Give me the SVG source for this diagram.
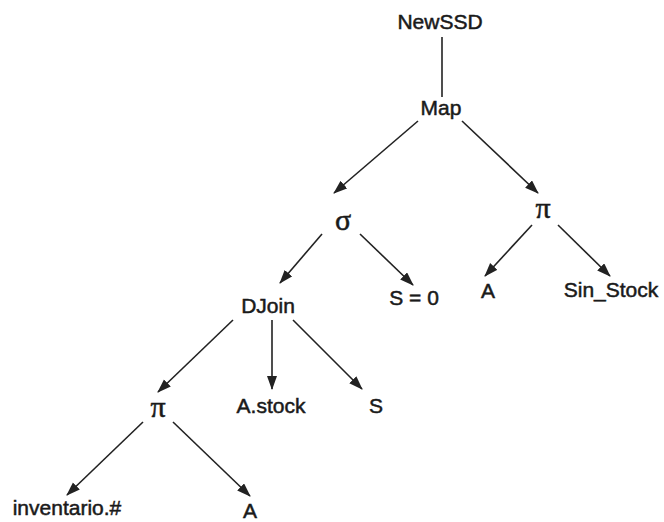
<svg xmlns="http://www.w3.org/2000/svg" width="664" height="522" viewBox="0 0 664 522">
  <style>
    .lbl { font-family: "Liberation Sans", Arial, sans-serif; font-size: 21px; fill: #1a1a1a; stroke: #1a1a1a; stroke-width: 0.5; text-anchor: middle; }
    .grk { font-family: "Liberation Serif", "Times New Roman", serif; font-size: 30px; fill: #1a1a1a; stroke: #1a1a1a; stroke-width: 0.5; text-anchor: middle; }
    .edge { stroke: #222; stroke-width: 1.6; fill: none; }
    .arr { marker-end: url(#head); }
  </style>
  <defs>
    <marker id="head" markerUnits="userSpaceOnUse" markerWidth="14" markerHeight="12" refX="13" refY="5" orient="auto">
      <path d="M0,0 L14,5 L0,10 Z" fill="#222"/>
    </marker>
  </defs>
  <rect width="664" height="522" fill="#fff"/>

  <g id="connectors">
    <line class="edge" x1="442" y1="37" x2="442" y2="97"/>
    <line class="edge arr" x1="418" y1="121" x2="334" y2="193"/>
    <line class="edge arr" x1="462" y1="121" x2="538" y2="193"/>
    <line class="edge arr" x1="322" y1="234" x2="280" y2="283"/>
    <line class="edge arr" x1="360" y1="234" x2="413" y2="285"/>
    <line class="edge arr" x1="532" y1="225" x2="485" y2="276"/>
    <line class="edge arr" x1="558" y1="225" x2="610" y2="276"/>
    <line class="edge arr" x1="233" y1="320" x2="158" y2="392"/>
    <line class="edge arr" x1="272" y1="320" x2="272" y2="389"/>
    <line class="edge arr" x1="293" y1="320" x2="362" y2="389"/>
    <line class="edge arr" x1="143" y1="422" x2="67" y2="495"/>
    <line class="edge arr" x1="173" y1="422" x2="250" y2="496"/>
  </g>

  <g id="newssd"><text class="lbl" x="440" y="29">NewSSD</text></g>
  <g id="map"><text class="lbl" x="441" y="115">Map</text></g>
  <g id="sigma"><text class="grk" x="343" y="230">σ</text></g>
  <g id="pi-right"><text class="grk" x="543" y="218">π</text></g>
  <g id="a-right"><text class="lbl" x="488" y="298">A</text></g>
  <g id="sin-stock"><text class="lbl" x="611" y="297">Sin_Stock</text></g>
  <g id="s-eq-0"><text class="lbl" x="414" y="305">S = 0</text></g>
  <g id="djoin"><text class="lbl" x="268" y="313">DJoin</text></g>
  <g id="pi-left"><text class="grk" x="158" y="417">π</text></g>
  <g id="a-stock"><text class="lbl" x="271" y="413">A.stock</text></g>
  <g id="s"><text class="lbl" x="376" y="413">S</text></g>
  <g id="inventario"><text class="lbl" x="67" y="515">inventario.#</text></g>
  <g id="a-left"><text class="lbl" x="250" y="518">A</text></g>
</svg>
